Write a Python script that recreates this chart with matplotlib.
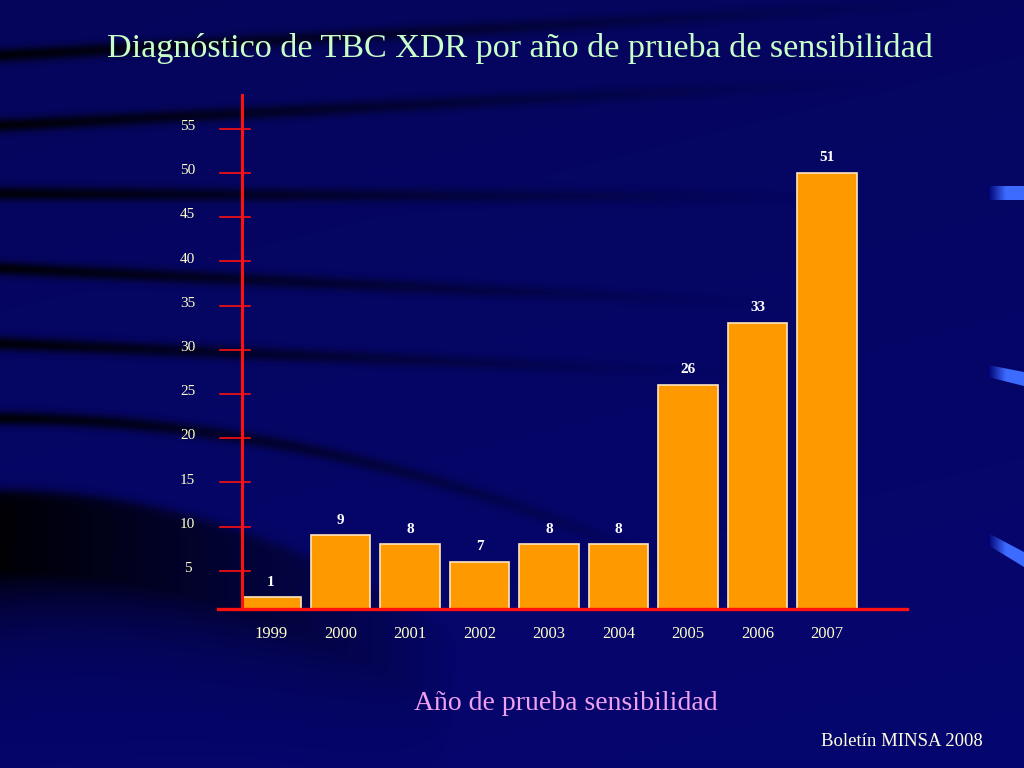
import numpy as np
import matplotlib
matplotlib.use("Agg")
import matplotlib.pyplot as plt
from matplotlib.patches import Polygon

# datos del gráfico
years = ['1999', '2000', '2001', '2002', '2003', '2004', '2005', '2006', '2007']
bar_heights = [2, 9, 8, 6, 8, 8, 26, 33, 50]   # altura leída contra el eje
bar_labels = ['1', '9', '8', '7', '8', '8', '26', '33', '51']
y_ticks = [5, 10, 15, 20, 25, 30, 35, 40, 45, 50, 55]

W, H = 1024, 768
plt.rcParams['font.family'] = ['Liberation Serif', 'DejaVu Serif']

fig = plt.figure(figsize=(W / 100, H / 100), dpi=100)

# fondo azul oscuro con franjas negras curvas
yy, xx = np.mgrid[0:H, 0:W].astype(float)
blue = 0.36 + 0.06 * (yy / H) + 0.02 * (xx / W)
dark = np.zeros((H, W))


def band(yc, w, xend, a=0.9):
    fade = np.clip(1 - xx / xend, 0, 1) ** 1.2
    return a * fade * np.exp(-((yy - yc) / w) ** 2)


dark = np.maximum(dark, band(55 - 0.055 * xx, 7, 1000))
dark = np.maximum(dark, band(125 - 0.05 * xx, 7, 900))
dark = np.maximum(dark, band(193 + 0.005 * xx, 7, 850))
dark = np.maximum(dark, band(268 + 0.045 * xx, 7, 800))
dark = np.maximum(dark, band(343 + 0.04 * xx, 7, 750))
dark = np.maximum(dark, band(418 + 0.00033 * xx ** 2, 7, 750))
# zona oscura abajo a la izquierda
yt = 490 + 0.0007 * xx ** 2
inside = 1 / (1 + np.exp(-(yy - yt) / 3))
tail = np.exp(-np.clip(yy - yt - 80, 0, None) / 45)
fade = np.clip(1 - xx / 460, 0, 1) ** 0.9
dark = np.maximum(dark, 0.95 * inside * tail * fade)

img = np.zeros((H, W, 3))
img[..., 0] = 0.02 * (1 - dark)
img[..., 1] = 0.02 * (1 - dark)
img[..., 2] = blue * (1 - dark)

bg = fig.add_axes([0, 0, 1, 1])
bg.imshow(img, extent=[0, W, H, 0], aspect='auto', zorder=0)
bg.axis('off')

# adornos celestes en el borde derecho
grad = np.linspace(0, 1, 64)[None, :]
shapes = [
    [(988, 186), (1024, 186), (1024, 200), (988, 200)],
    [(988, 365), (1024, 372), (1024, 386), (988, 377)],
    [(988, 533), (1024, 552), (1024, 567), (988, 545)],
]
cmap = matplotlib.colors.LinearSegmentedColormap.from_list('c', ['#000070', '#3d6bff', '#3d6bff'])
for pts in shapes:
    poly = Polygon(pts, closed=True, transform=bg.transData, facecolor='none', edgecolor='none')
    bg.add_patch(poly)
    ys = [p[1] for p in pts]
    im = bg.imshow(grad, extent=[988, 1024, max(ys), min(ys)], cmap=cmap, aspect='auto', zorder=1)
    im.set_clip_path(poly)
bg.set_xlim(0, W)
bg.set_ylim(H, 0)

# ejes del gráfico
ax = fig.add_axes([242 / W, (H - 609) / H, 665 / W, 514 / H])
ax.patch.set_alpha(0)
for s in ax.spines.values():
    s.set_visible(False)
ax.set_xticks([])
ax.set_yticks([])
y0, y1 = 0.68, 58.82
x0, x1 = -0.417, 9.151
ax.set_xlim(x0, x1)
ax.set_ylim(y0, y1)

x = np.arange(len(years))
ax.bar(x, bar_heights, width=0.86, color='#ff9900', edgecolor='#ffe6c0', linewidth=1.2, zorder=2)

red = '#ff1010'
ax.plot([x0, x0], [y0, y1], color=red, lw=2.2, clip_on=False, zorder=3)
ax.plot([-0.76, x1], [y0, y0], color=red, lw=2.4, clip_on=False, zorder=3)
for v in y_ticks:
    ax.plot([-0.734, -0.302], [v, v], color=red, lw=1.2, clip_on=False, zorder=3)
    ax.text(-1.2, v + 0.25, str(v), ha='center', va='center', fontsize=11,
            color='#ffffcc', clip_on=False)

for xi, yr in zip(x, years):
    ax.text(xi, -2.15, yr, ha='center', va='center', fontsize=12, color='#ffffcc', clip_on=False)

for xi, h, lab in zip(x, bar_heights, bar_labels):
    ax.annotate(lab, (xi, h), xytext=(0, 11), textcoords='offset points', ha='center',
                va='center', fontsize=11, fontweight='bold', color='white')

fig.text(520 / W, 1 - 49 / H, 'Diagnóstico de TBC XDR por año de prueba de sensibilidad',
         ha='center', va='center', fontsize=24.6, color='#c8ffc8', family='Liberation Serif')
fig.text(566 / W, 1 - 704 / H, 'Año de prueba sensibilidad', ha='center', va='center',
         fontsize=20, color='#f0a0f0')
fig.text(902 / W, 1 - 741 / H, 'Boletín MINSA 2008', ha='center', va='center',
         fontsize=13.5, color='#ffffe0')

fig.savefig('out.png', dpi=100)
